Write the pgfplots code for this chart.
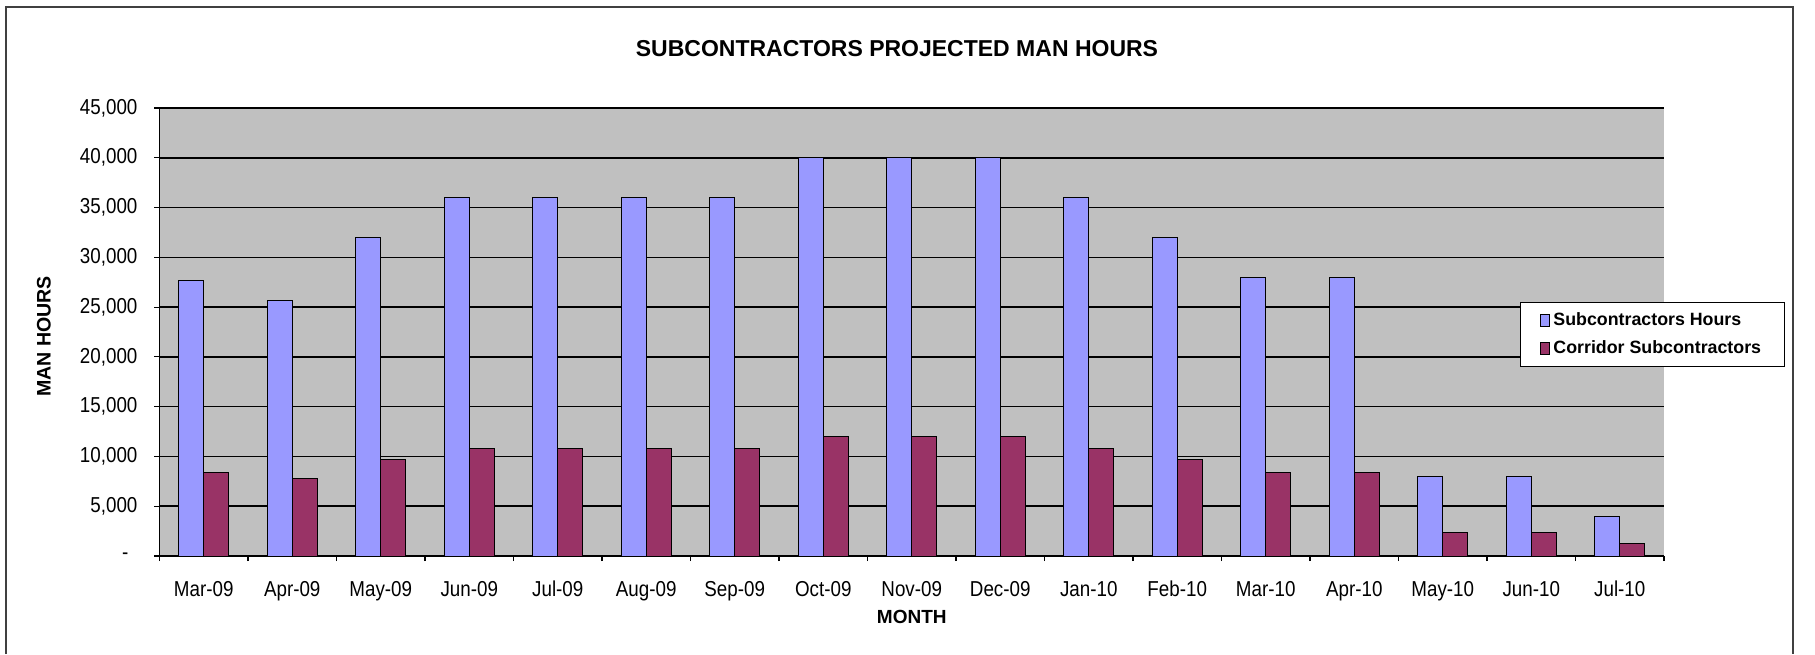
\documentclass[border=0pt]{standalone}
\usepackage{fontspec}
\setmainfont{Liberation Sans}
\newfontfamily\narrowfont[FakeStretch=0.87]{Liberation Sans}
\usepackage{pgfplots}
\pgfplotsset{compat=1.18}
\definecolor{barblue}{HTML}{9999FF}
\definecolor{barred}{HTML}{993366}
\definecolor{plotbg}{HTML}{C0C0C0}
\definecolor{framegray}{HTML}{404040}

\begin{document}
\begin{tikzpicture}
\useasboundingbox (-79.75pt,-49pt) rectangle (827.75pt,278pt);
\draw[framegray, line width=1pt] (-76.75pt,-49pt) -- (-76.75pt,274.5pt) -- (816.75pt,274.5pt) -- (816.75pt,-49pt);
\begin{axis}[
  at={(0pt,0pt)}, anchor=south west,
  scale only axis, width=752.25pt, height=224pt,
  xmin=-0.5, xmax=16.5, ymin=0, ymax=45000,
  scaled y ticks=false,
  axis background/.style={fill=plotbg},
  axis x line=bottom, axis y line=left,
  axis line style={-, black, line width=0.8pt},
  ybar=0pt, bar width=12.5pt,
  xtick={0,...,16},
  xticklabels={Mar-09,Apr-09,May-09,Jun-09,Jul-09,Aug-09,Sep-09,Oct-09,Nov-09,Dec-09,Jan-10,Feb-10,Mar-10,Apr-10,May-10,Jun-10,Jul-10},
  every major x tick/.append style={draw=none},
  minor xtick={-0.5,0.5,...,16.5},
  tick align=outside, major tick length=2.5pt, minor tick length=2.5pt,
  tick style={black, line width=0.6pt},
  ytick={0,5000,...,45000},
  yticklabels={{-\hspace*{4.5pt}},{5,000},{10,000},{15,000},{20,000},{25,000},{30,000},{35,000},{40,000},{45,000}},
  ymajorgrids, grid style={black, line width=0.75pt},
  xticklabel style={font=\narrowfont\fontsize{10.8}{12}\selectfont, yshift=-6.5pt},
  yticklabel style={font=\narrowfont\fontsize{10.8}{12}\selectfont, xshift=-5pt},
  xlabel={MONTH}, ylabel={MAN HOURS},
  xlabel style={font=\bfseries\fontsize{9.5}{11}\selectfont, at={(axis description cs:0.5,-0.136)}, anchor=center},
  ylabel style={font=\bfseries\fontsize{9.8}{11}\selectfont, at={(axis description cs:-0.0768,0.49)}, anchor=center},
  legend style={at={(0.9043,0.567)}, anchor=north west, draw=black, line width=0.6pt, fill=white,
    font=\bfseries\fontsize{8.9}{10}\selectfont, inner xsep=9.5pt, inner ysep=3pt, row sep=2pt,
    cells={anchor=west}},
  legend image code/.code={\draw[#1, draw=black, line width=0.4pt] (2pt,-3pt) rectangle (6.5pt,3pt);},
]
\addplot[fill=barblue, draw=black, line width=0.5pt] coordinates {
(0,27700) (1,25700) (2,32000) (3,36000) (4,36000) (5,36000) (6,36000) (7,40000) (8,40000)
(9,40000) (10,36000) (11,32000) (12,28000) (13,28000) (14,8000) (15,8000) (16,4000)};
\addlegendentry{Subcontractors Hours}
\addplot[fill=barred, draw=black, line width=0.5pt] coordinates {
(0,8350) (1,7800) (2,9700) (3,10800) (4,10800) (5,10800) (6,10800) (7,12000) (8,12000)
(9,12000) (10,10800) (11,9700) (12,8400) (13,8400) (14,2400) (15,2400) (16,1300)};
\addlegendentry{Corridor Subcontractors}
\end{axis}
\node[font=\bfseries\fontsize{11.5}{14}\selectfont] at (368.75pt,253.5pt) {SUBCONTRACTORS PROJECTED MAN HOURS};
\end{tikzpicture}
\end{document}
